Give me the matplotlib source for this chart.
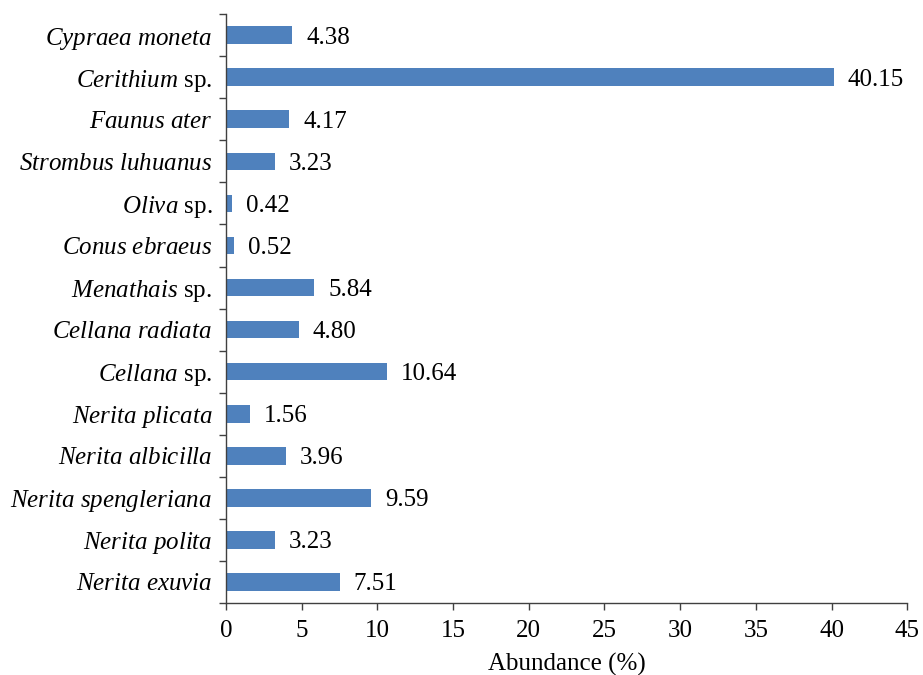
import matplotlib.pyplot as plt
import matplotlib.transforms as mtransforms
import numpy as np
from matplotlib.ticker import FixedLocator

plt.rcParams['font.family'] = ['Liberation Serif', 'DejaVu Serif']
plt.rcParams['mathtext.fontset'] = 'custom'
plt.rcParams['mathtext.rm'] = 'Liberation Serif'
plt.rcParams['mathtext.it'] = 'Liberation Serif:italic'

species = [r'$\mathit{Nerita\ exuvia}$', r'$\mathit{Nerita\ polita}$',
           r'$\mathit{Nerita\ spengleriana}$', r'$\mathit{Nerita\ albicilla}$',
           r'$\mathit{Nerita\ plicata}$', r'$\mathit{Cellana}$ sp.',
           r'$\mathit{Cellana\ radiata}$', r'$\mathit{Menathais}$ sp.',
           r'$\mathit{Conus\ ebraeus}$', r'$\mathit{Oliva}$ sp.',
           r'$\mathit{Strombus\ luhuanus}$', r'$\mathit{Faunus\ ater}$',
           r'$\mathit{Cerithium}$ sp.', r'$\mathit{Cypraea\ moneta}$']
abundance = [7.51, 3.23, 9.59, 3.96, 1.56, 10.64, 4.80, 5.84, 0.52, 0.42, 3.23, 4.17, 40.15, 4.38]

fig = plt.figure(figsize=(9.23, 6.75), dpi=100)
ax = fig.add_axes([0.2449, 0.1067, 0.738, 0.8723])

y = np.arange(len(species))
ax.barh(y, abundance, height=0.42, color='#4F81BD')
for i, v in enumerate(abundance):
    ax.annotate(f'{v:.2f}', (v, y[i]), textcoords='offset points', xytext=(10, 0),
                ha='left', va='center_baseline', fontsize=18)

ax.set_ylim(-0.5, len(species) - 0.5)
ax.set_xlim(0, 45)
ax.set_xticks(np.arange(0, 46, 5))
ax.set_yticks(y)
ax.set_yticklabels(species, va='center_baseline')
shift = mtransforms.ScaledTranslation(0, 2 / 72, fig.dpi_scale_trans)
for lab in ax.get_yticklabels():
    lab.set_transform(lab.get_transform() + shift)
ax.yaxis.set_minor_locator(FixedLocator(np.arange(-0.5, len(species), 1)))
ax.tick_params(axis='y', which='major', length=0, pad=10, labelsize=18)
ax.tick_params(axis='y', which='minor', length=5, width=1, color='#404040', direction='out')
ax.tick_params(axis='x', length=5, width=1, color='#404040', labelsize=18, pad=7)
ax.set_xlabel('Abundance (%)', fontsize=18, labelpad=8)

for s in ['top', 'right']:
    ax.spines[s].set_visible(False)
for s in ['left', 'bottom']:
    ax.spines[s].set_color('#404040')
    ax.spines[s].set_linewidth(1)

fig.savefig('out.png', dpi=100)
